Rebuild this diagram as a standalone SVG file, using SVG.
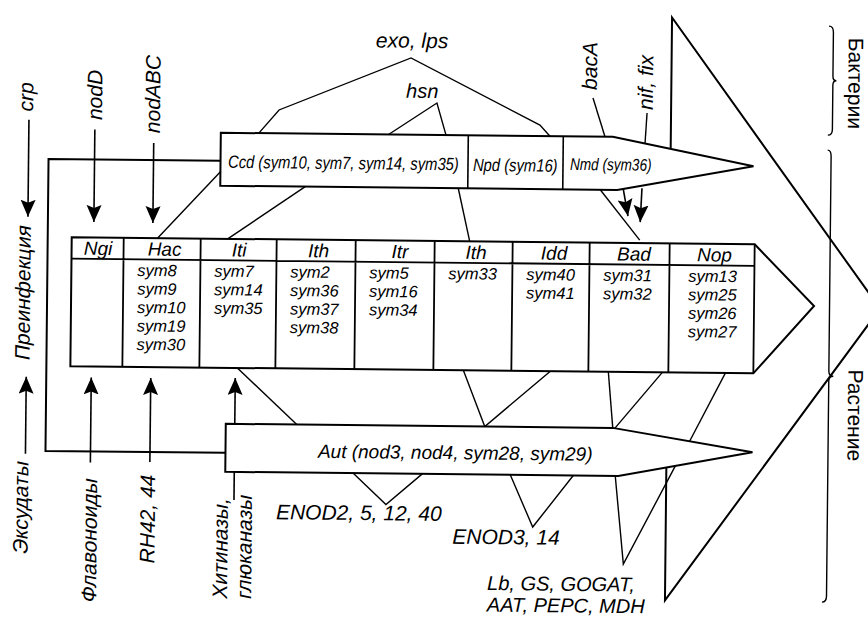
<svg xmlns="http://www.w3.org/2000/svg" width="868" height="617" viewBox="0 0 868 617">
<style>
.t{font-family:"Liberation Sans",Arial,sans-serif;font-style:italic;fill:#000}
.ob{font-family:"Liberation Sans",Arial,sans-serif;font-style:normal;fill:#000;font-size:21px}
.ln{stroke:#000;stroke-width:1.4;fill:none}
.th{stroke:#000;stroke-width:2;fill:none}
.box{fill:#fff;stroke:#000;stroke-width:2;stroke-linejoin:miter}
.ar{stroke:#000;stroke-width:1.6;fill:none;marker-end:url(#ah)}
.lab{font-size:21px}
.hd{font-size:19px;text-anchor:middle}
.bd{font-size:16.5px}
</style>
<defs>
<marker id="ah" markerUnits="userSpaceOnUse" markerWidth="18" markerHeight="16" refX="17" refY="7.5" orient="auto">
<path d="M0,0 L17,7.5 L0,15 L3,7.5 z" fill="#000"/>
</marker>
</defs>
<rect width="868" height="617" fill="#fff"/>
<g transform="rotate(0.6 434 308)">
<g id="frame">
<path class="th" d="M669,146 V15 L880,304 L668,598 V465"/>
<path class="ln" d="M826,22 Q830.5,22 830.5,28 V72 Q830.5,76.5 834,76.5 Q830.5,76.5 830.5,81 V125 Q830.5,131 826,131"/>
<path class="ln" d="M826,146 Q829.5,146 829.5,152 V367 Q829.5,372 834,372 Q829.5,372 829.5,377 V592 Q829.5,598 825,598"/>
</g>
<g id="connectors">
<path class="ln" d="M257,135 L277,111.6 L408.4,58.2 L538,124 L548.2,135"/>
<path class="ln" d="M386,135.5 L434.8,103 L444.2,135"/>
<line class="ln" x1="590.8" y1="96.3" x2="603.2" y2="135"/>
<line class="ln" x1="645" y1="110.8" x2="643.3" y2="141"/>
<path class="th" d="M219,163 H47 V455 H227"/>
<line class="ln" x1="219" y1="174" x2="157" y2="241"/>
<line class="ln" x1="304" y1="188" x2="227" y2="241"/>
<line class="ln" x1="457" y1="188" x2="469" y2="241"/>
<line class="ln" x1="599" y1="188" x2="639" y2="238"/>
<line class="ar" x1="621.8" y1="186" x2="627" y2="214"/>
<line class="ar" x1="640.7" y1="186" x2="639.3" y2="220"/>
<line class="ln" x1="238" y1="370" x2="298" y2="426"/>
<path class="ln" d="M464,370 L486,426 L551,370"/>
<line class="ln" x1="609" y1="370" x2="614" y2="426"/>
<line class="ln" x1="663" y1="370" x2="616" y2="426.5"/>
<line class="ln" x1="726" y1="370" x2="691" y2="438.6"/>
<path class="ln" d="M355,474 L388,505 L424,474"/>
<path class="ln" d="M512,474 L535,526 L575,474"/>
<path class="ln" d="M617,474 L626,562 L677,463.4"/>
<line class="ar" x1="27" y1="124" x2="27" y2="221"/>
<line class="ar" x1="93" y1="133" x2="93" y2="225.5"/>
<line class="ar" x1="152" y1="146" x2="152" y2="226"/>
<line class="ar" x1="27" y1="458" x2="27" y2="381"/>
<line class="ar" x1="92" y1="466" x2="92" y2="381"/>
<line class="ar" x1="151.5" y1="465" x2="151.5" y2="381"/>
<line class="ar" x1="236" y1="502" x2="236" y2="380"/>
</g>
<g id="ccd">
<path class="box" d="M219,135 H611 L752,163 L616,188 H219 Z"/>
<line class="ln" x1="466.5" y1="135" x2="466.5" y2="188" style="stroke-width:1.6"/>
<line class="ln" x1="561.5" y1="135" x2="561.5" y2="188" style="stroke-width:1.6"/>
<text class="t" x="0" y="0" font-size="14.8" transform="translate(226.5 170) scale(1 1.2)">Ccd (sym10, sym7, sym14, sym35)</text>
<text class="t" x="0" y="0" font-size="14.8" transform="translate(471.5 170.5) scale(1 1.2)">Npd (sym16)</text>
<text class="t" x="0" y="0" font-size="13.6" transform="translate(568.5 168.5) scale(1 1.25)">Nmd (sym36)</text>
</g>
<g id="table">
<path class="box" d="M71,241 H754 L814,302 L754,370 H71 Z"/>
<path class="ln" style="stroke-width:1.8" d="M71,262.5 H754 M123,241 V370 M200,241 V370 M276,241 V370 M355,241 V370 M434,241 V370 M512,241 V370 M589,241 V370 M669,241 V370 M754,241 V370"/>
<text class="t hd" x="97.5" y="258.5">Ngi</text>
<text class="t hd" x="164" y="258.5">Hac</text>
<text class="t hd" x="238.5" y="258.5">Iti</text>
<text class="t hd" x="318" y="258.5">Ith</text>
<text class="t hd" x="399.5" y="258.5">Itr</text>
<text class="t hd" x="475.5" y="258.5">Ith</text>
<text class="t hd" x="553.5" y="258.5">Idd</text>
<text class="t hd" x="633.5" y="258.5">Bad</text>
<text class="t hd" x="714" y="258.5">Nop</text>
<text class="t bd" x="137" y="279"><tspan x="137">sym8</tspan><tspan x="137" dy="18.5">sym9</tspan><tspan x="137" dy="18.5">sym10</tspan><tspan x="137" dy="18.5">sym19</tspan><tspan x="137" dy="18.5">sym30</tspan></text>
<text class="t bd" x="214" y="279"><tspan x="214">sym7</tspan><tspan x="214" dy="18.5">sym14</tspan><tspan x="214" dy="18.5">sym35</tspan></text>
<text class="t bd" x="290" y="279"><tspan x="290">sym2</tspan><tspan x="290" dy="18.5">sym36</tspan><tspan x="290" dy="18.5">sym37</tspan><tspan x="290" dy="18.5">sym38</tspan></text>
<text class="t bd" x="369" y="279"><tspan x="369">sym5</tspan><tspan x="369" dy="18.5">sym16</tspan><tspan x="369" dy="18.5">sym34</tspan></text>
<text class="t bd" x="448" y="279">sym33</text>
<text class="t bd" x="526" y="279"><tspan x="526">sym40</tspan><tspan x="526" dy="18.5">sym41</tspan></text>
<text class="t bd" x="603" y="279"><tspan x="603">sym31</tspan><tspan x="603" dy="18.5">sym32</tspan></text>
<text class="t bd" x="688" y="279"><tspan x="688">sym13</tspan><tspan x="688" dy="18.5">sym25</tspan><tspan x="688" dy="18.5">sym26</tspan><tspan x="688" dy="18.5">sym27</tspan></text>
</g>
<g id="aut">
<path class="box" d="M227,426 H614 L754,449 L620,474 H227 Z"/>
<text class="t" x="319.5" y="459" font-size="19">Aut (nod3, nod4, sym28, sym29)</text>
</g>
<g id="labels">
<text class="t lab" x="409.3" y="48" text-anchor="middle">exo, lps</text>
<text class="t" x="420" y="98" font-size="20" text-anchor="middle">hsn</text>
<text class="t lab" x="594.5" y="64.3" text-anchor="middle" transform="rotate(-90 594.5 64.3)">bacA</text>
<text class="t lab" x="650.6" y="80.2" text-anchor="middle" transform="rotate(-90 650.6 80.2)">nif, fix</text>
<text class="t lab" x="31" y="101" text-anchor="middle" transform="rotate(-90 31 101)">crp</text>
<text class="t lab" x="100" y="98.5" text-anchor="middle" transform="rotate(-90 100 98.5)">nodD</text>
<text class="t lab" x="158" y="97" text-anchor="middle" transform="rotate(-90 158 97)">nodABC</text>
<text class="ob" x="0" y="0" text-anchor="middle" transform="translate(30 298) rotate(-90) skewX(-11)">Преинфекция</text>
<text class="ob" x="0" y="0" text-anchor="middle" transform="translate(30 513) rotate(-90) skewX(-11)">Эксудаты</text>
<text class="ob" x="0" y="0" text-anchor="middle" transform="translate(99 545) rotate(-90) skewX(-11)">Флавоноиды</text>
<text class="t lab" x="157" y="522" text-anchor="middle" transform="rotate(-90 157 522)">RH42, 44</text>
<text class="ob" x="0" y="0" transform="translate(230 602) rotate(-90) skewX(-11)">Хитиназы,</text>
<text class="ob" x="0" y="0" transform="translate(254 602) rotate(-90) skewX(-11)">глюканазы</text>
<text class="t lab" x="361" y="520.8" text-anchor="middle">ENOD2, 5, 12, 40</text>
<text class="t lab" x="508.4" y="543.5" text-anchor="middle">ENOD3, 14</text>
<text class="t" font-size="20" x="490" y="589.4">Lb, GS, GOGAT,</text>
<text class="t" font-size="20" x="490" y="611">AAT, PEPC, MDH</text>
<text class="ob" x="0" y="0" text-anchor="middle" font-size="20" transform="translate(846 79) rotate(90)">Бактерии</text>
<text class="ob" x="0" y="0" text-anchor="middle" font-size="20" transform="translate(849 411) rotate(90)">Растение</text>
</g>
</g>
</svg>
